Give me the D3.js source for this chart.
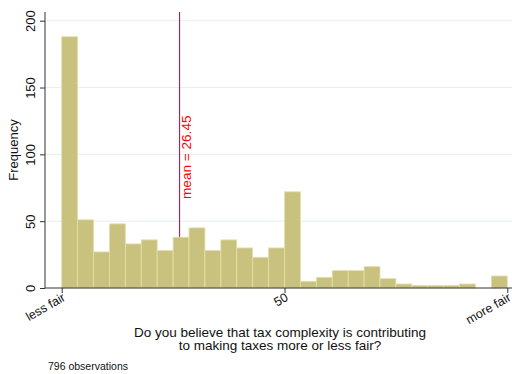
<!DOCTYPE html>
<html>
<head>
<meta charset="utf-8">
<script src="https://cdn.jsdelivr.net/npm/d3@7"></script>
<style>
  body { margin: 0; background: #fff; }
  svg { display: block; font-family: "Liberation Sans", Arial, Helvetica, sans-serif; }
</style>
</head>
<body>
<svg id="chart" width="512" height="374"></svg>
<script>
// Histogram of responses (0 = less fair, 100 = more fair), 28 equal-width bins
const binCounts = [188, 51, 27, 48, 33, 36, 28, 38, 45, 28, 36, 30, 23, 30,
                   72, 5, 8, 13, 13, 16, 7, 3, 2, 2, 2, 3, 0, 9];
const xTickValues = [0, 50, 100];
const xTickLabels = ["less fair", "50", "more fair"];
const yTickValues = [0, 50, 100, 150, 200];
const meanValue = 26.45;
const nObs = 796;
const xTitle = ["Do you believe that tax complexity is contributing", "to making taxes more or less fair?"];

const svg = d3.select("#chart");
const plotLeft = 45, plotRight = 512, plotTop = 12, plotBottom = 288;

const x = d3.scaleLinear().domain([0, 100]).range([61.7, 507.3]);
const y = d3.scaleLinear().domain([0, 200]).range([plotBottom, 20.7]);

const binW = 100 / binCounts.length;
const bins = binCounts.map((c, i) => ({ x0: i * binW, x1: (i + 1) * binW, count: c }));

// gridlines
svg.append("g")
  .selectAll("line").data(yTickValues.filter(v => v > 0)).join("line")
  .attr("x1", plotLeft).attr("x2", plotRight)
  .attr("y1", d => y(d)).attr("y2", d => y(d))
  .attr("stroke", "#e6eff1").attr("stroke-width", 1);

// mean line (behind bars)
svg.append("line")
  .attr("x1", x(meanValue)).attr("x2", x(meanValue))
  .attr("y1", plotTop).attr("y2", plotBottom)
  .attr("stroke", "#c0184a").attr("stroke-width", 1.1);

// bars
svg.append("g")
  .selectAll("rect").data(bins.filter(b => b.count > 0)).join("rect")
  .attr("x", d => x(d.x0))
  .attr("width", d => x(d.x1) - x(d.x0))
  .attr("y", d => y(d.count))
  .attr("height", d => y(0) - y(d.count))
  .attr("fill", "#c9c27f")
  .attr("stroke", "#e3dfb0")
  .attr("stroke-width", 0.8);

// mean label
svg.append("text")
  .attr("transform", `translate(${x(meanValue) + 11.5},199) rotate(-90)`)
  .attr("fill", "#ff0000")
  .attr("font-size", 13.6)
  .text("mean = " + meanValue.toFixed(2));

// y axis
const yAxis = svg.append("g").attr("transform", `translate(${plotLeft},0)`)
  .call(d3.axisLeft(y).tickValues(yTickValues).tickSize(5).tickPadding(3).tickFormat(d3.format("d")));
yAxis.select(".domain").attr("d", `M0,${plotTop}V${plotBottom}`).attr("stroke", "#333");
yAxis.selectAll(".tick line").attr("stroke", "#333");
yAxis.selectAll(".tick text")
  .attr("transform", "rotate(-90)")
  .attr("x", 0).attr("y", -10)
  .attr("text-anchor", "middle")
  .attr("dy", 0)
  .attr("font-size", 13).attr("fill", "#111");

// x axis
const xAxis = svg.append("g").attr("transform", `translate(0,${plotBottom})`)
  .call(d3.axisBottom(x).tickValues(xTickValues).tickSize(5)
    .tickFormat((d, i) => xTickLabels[i]));
xAxis.select(".domain").attr("d", `M${plotLeft},0H${plotRight}`).attr("stroke", "#333");
xAxis.selectAll(".tick line").attr("stroke", "#333");
xAxis.selectAll(".tick text")
  .attr("text-anchor", "end")
  .attr("transform", "translate(-0.5,4) rotate(-30)")
  .attr("y", 0).attr("dy", "0.72em")
  .attr("font-size", 12.5).attr("fill", "#111");

// axis titles
svg.append("text")
  .attr("transform", "translate(18,150) rotate(-90)")
  .attr("text-anchor", "middle")
  .attr("font-size", 13).attr("fill", "#111")
  .text("Frequency");

svg.append("g").selectAll("text").data(xTitle).join("text")
  .attr("x", 280).attr("y", (d, i) => 336.5 + i * 13.5)
  .attr("text-anchor", "middle")
  .attr("font-size", 13.5).attr("fill", "#111")
  .text(d => d);

svg.append("text")
  .attr("x", 48).attr("y", 370)
  .attr("font-size", 10.5).attr("fill", "#111")
  .text(nObs + " observations");
</script>
</body>
</html>
